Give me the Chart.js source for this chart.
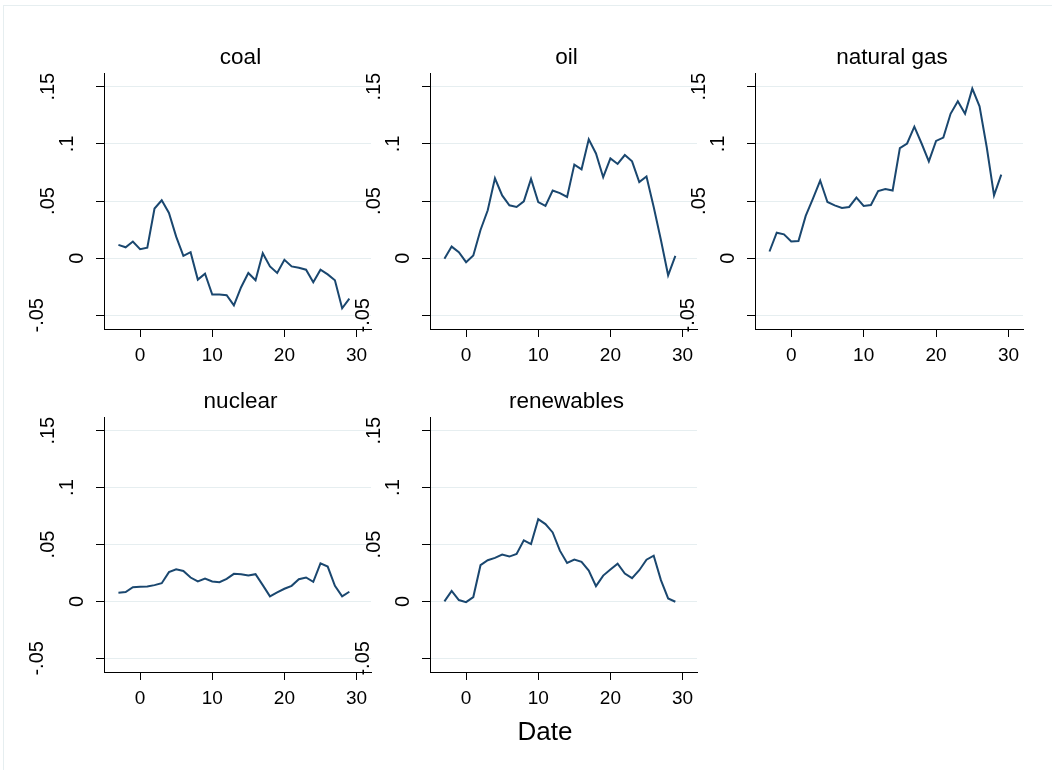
<!DOCTYPE html>
<html>
<head>
<meta charset="utf-8">
<script src="https://cdn.jsdelivr.net/npm/chart.js@4.4.1/dist/chart.umd.min.js"></script>
<style>
  html, body { margin: 0; padding: 0; background: #ffffff; }
  #wrap { position: relative; width: 1052px; height: 770px; overflow: hidden; background: #fff; }
  #frame { position: absolute; left: 3px; top: 5px; width: 1100px; height: 800px;
           border-left: 1px solid #e6eef0; border-top: 1px solid #e6eef0; }
  canvas { position: absolute; }
  .ttl { position: absolute; font-family: "Liberation Sans", Arial, sans-serif; color: #000;
         white-space: nowrap; transform: translate(-50%, -50%); line-height: 1; }
</style>
</head>
<body>
<div id="wrap"><div id="frame"></div></div>
<script>
// ---------------- data ----------------
const dates = [-3, -2, -1, 0, 1, 2, 3, 4, 5, 6, 7, 8, 9, 10, 11, 12, 13, 14, 15, 16,
               17, 18, 19, 20, 21, 22, 23, 24, 25, 26, 27, 28, 29];

const coal = [0.0116, 0.0095, 0.0145, 0.0078, 0.0092, 0.0434, 0.0506, 0.0396, 0.0188, 0.0020,
              0.0052, -0.0188, -0.0136, -0.0318, -0.0318, -0.0324, -0.0413, -0.0254, -0.0130, -0.0194,
              0.0043, -0.0072, -0.0130, -0.0014, -0.0072, -0.0084, -0.0101, -0.0211, -0.0101, -0.0142,
              -0.0194, -0.0439, -0.0355];

const oil = [-0.0006, 0.0101, 0.0052, -0.0035, 0.0023, 0.0246, 0.0419, 0.0699, 0.0549, 0.0462,
             0.0448, 0.0497, 0.0694, 0.0491, 0.0457, 0.0592, 0.0569, 0.0535, 0.0818, 0.0777,
             0.1040, 0.0916, 0.0708, 0.0873, 0.0824, 0.0902, 0.0847, 0.0665, 0.0714, 0.0448,
             0.0159, -0.0150, 0.0020];

const naturalGas = [0.0058, 0.0223, 0.0208, 0.0145, 0.0150, 0.0370, 0.0520, 0.0679, 0.0491, 0.0462,
                    0.0439, 0.0448, 0.0529, 0.0457, 0.0465, 0.0587, 0.0604, 0.0592, 0.0962, 0.1003,
                    0.1150, 0.1003, 0.0847, 0.1026, 0.1055, 0.1263, 0.1373, 0.1263, 0.1483, 0.1329,
                    0.0968, 0.0549, 0.0731];

const nuclear = [0.0076, 0.0082, 0.0125, 0.0128, 0.0131, 0.0143, 0.0160, 0.0257, 0.0283, 0.0268,
                 0.0210, 0.0175, 0.0201, 0.0175, 0.0169, 0.0198, 0.0242, 0.0239, 0.0227, 0.0239,
                 0.0143, 0.0044, 0.0079, 0.0111, 0.0137, 0.0195, 0.0210, 0.0172, 0.0335, 0.0306,
                 0.0137, 0.0044, 0.0085];

const renewables = [0.0000, 0.0093, 0.0012, -0.0006, 0.0038, 0.0318, 0.0362, 0.0382, 0.0411, 0.0394,
                    0.0417, 0.0536, 0.0504, 0.0723, 0.0679, 0.0606, 0.0446, 0.0338, 0.0367, 0.0347,
                    0.0271, 0.0134, 0.0227, 0.0280, 0.0332, 0.0245, 0.0204, 0.0274, 0.0367, 0.0402,
                    0.0187, 0.0026, -0.0003];

const panelTitles = ["coal", "oil", "natural gas", "nuclear", "renewables"];
const panelSeries = [coal, oil, naturalGas, nuclear, renewables];

const yTickValues = [-0.05, 0, 0.05, 0.1, 0.15];
const yTickLabels = ["-.05", "0", ".05", ".1", ".15"];
const xTickValues = [0, 10, 20, 30];
const xTickLabels = ["0", "10", "20", "30"];
const xAxisTitle = "Date";

// ---------------- layout ----------------
const FONT = '"Liberation Sans", Arial, sans-serif';
const colL = [104, 430, 755], colR = [371, 697, 1023];
const rowT = [73, 417], rowB = [329, 672];
const Y_W = 90, X_H = 45, PAD_T = 12, PAD_R = 10;
const LINE_COLOR = '#1a476f';
const GRID_COLOR = '#e6eef0';

const yLabelPlugin = {
  id: 'yRotLabels',
  afterDraw(chart) {
    const s = chart.scales.y, ctx = chart.ctx;
    ctx.save();
    ctx.font = '20px ' + FONT;
    ctx.fillStyle = '#000';
    ctx.textAlign = 'center';
    ctx.textBaseline = 'middle';
    s.ticks.forEach(t => {
      const idx = yTickValues.indexOf(t.value);
      if (idx < 0) return;
      const lab = yTickLabels[idx];
      const w = ctx.measureText(lab).width;
      const yy = s.getPixelForValue(t.value);
      const xx = chart.chartArea.left - 9 - 1.7 * w;
      ctx.save();
      ctx.translate(xx, yy);
      ctx.rotate(-Math.PI / 2);
      ctx.fillText(lab, 0, 1);
      ctx.restore();
    });
    ctx.restore();
  }
};

const wrap = document.getElementById('wrap');

function addText(txt, cx, cy, size) {
  const d = document.createElement('div');
  d.className = 'ttl';
  d.style.left = cx + 'px';
  d.style.top = cy + 'px';
  d.style.fontSize = size + 'px';
  d.textContent = txt;
  wrap.appendChild(d);
}

panelSeries.forEach((vals, i) => {
  const col = i % 3, row = Math.floor(i / 3);
  const PL = colL[col], PR = colR[col], PT = rowT[row], PB = rowB[row];
  const cv = document.createElement('canvas');
  const w = (PR - PL) + Y_W + PAD_R;
  const h = (PB - PT) + PAD_T + X_H;
  cv.width = w; cv.height = h;
  cv.style.width = w + 'px'; cv.style.height = h + 'px';
  cv.style.left = (PL - Y_W) + 'px';
  cv.style.top = (PT - PAD_T) + 'px';
  wrap.appendChild(cv);

  new Chart(cv.getContext('2d'), {
    type: 'line',
    data: {
      datasets: [{
        data: dates.map((d, k) => ({ x: d, y: vals[k] })),
        borderColor: LINE_COLOR,
        borderWidth: 2,
        pointRadius: 0,
        tension: 0,
        fill: false
      }]
    },
    options: {
      responsive: false,
      animation: false,
      devicePixelRatio: 1,
      layout: { padding: { top: PAD_T, right: PAD_R, left: 0, bottom: 0 } },
      plugins: { legend: { display: false }, tooltip: { enabled: false }, title: { display: false } },
      scales: {
        x: {
          type: 'linear',
          min: -5, max: 32,
          afterBuildTicks: s => { s.ticks = xTickValues.map(v => ({ value: v })); },
          afterFit: s => { s.height = X_H; },
          ticks: {
            autoSkip: false, maxRotation: 0, minRotation: 0, padding: 7,
            color: '#000', font: { family: FONT, size: 19 },
            callback: v => { const k = xTickValues.indexOf(v); return k >= 0 ? xTickLabels[k] : ''; }
          },
          grid: { drawOnChartArea: false, drawTicks: true, tickLength: 8, tickColor: '#000', tickWidth: 1 },
          border: { display: true, color: '#000', width: 1 }
        },
        y: {
          type: 'linear',
          min: -0.062, max: 0.162,
          afterBuildTicks: s => { s.ticks = yTickValues.map(v => ({ value: v })); },
          afterFit: s => { s.width = Y_W; },
          ticks: { display: false },
          grid: { color: GRID_COLOR, lineWidth: 1, drawTicks: true, tickLength: 8, tickColor: '#000', tickWidth: 1 },
          border: { display: true, color: '#000', width: 1 }
        }
      }
    },
    plugins: [yLabelPlugin]
  });

  addText(panelTitles[i], (PL + PR) / 2 + 3, PT - 16, 22.5);
});

addText(xAxisTitle, 545, 731, 26);
</script>
</body>
</html>
